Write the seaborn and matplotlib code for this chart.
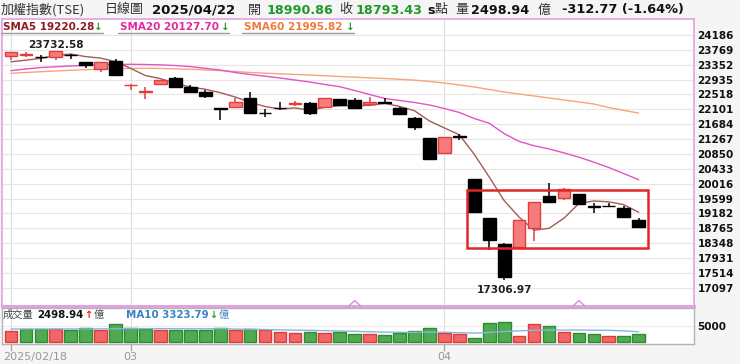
import numpy as np
import pandas as pd
import matplotlib
matplotlib.use("Agg")
import matplotlib.pyplot as plt
import matplotlib.transforms as mtransforms
from matplotlib.patches import Rectangle
import seaborn as sns

# ---------------- data ----------------
dates = ["2025-02-18", "2025-02-19", "2025-02-20", "2025-02-21", "2025-02-24", "2025-02-25",
         "2025-02-26", "2025-02-27", "2025-03-03", "2025-03-04", "2025-03-05", "2025-03-06",
         "2025-03-07", "2025-03-10", "2025-03-11", "2025-03-12", "2025-03-13", "2025-03-14",
         "2025-03-17", "2025-03-18", "2025-03-19", "2025-03-20", "2025-03-21", "2025-03-24",
         "2025-03-25", "2025-03-26", "2025-03-27", "2025-03-28", "2025-03-31", "2025-04-01",
         "2025-04-02", "2025-04-07", "2025-04-08", "2025-04-09", "2025-04-10", "2025-04-11",
         "2025-04-14", "2025-04-15", "2025-04-16", "2025-04-17", "2025-04-18", "2025-04-21",
         "2025-04-22"]
opens = [23595, 23630, 23565, 23575, 23628, 23418, 23222, 23463, 22780, 22585, 22810, 22970,
         22735, 22577, 22140, 22174, 22426, 22010, 22135, 22262, 22269, 22174, 22381, 22362,
         22255, 22305, 22129, 21849, 21289, 20885, 21340, 20140, 19064, 18327, 18251, 18766,
         19680, 19607, 19728, 19380, 19400, 19327, 18990.86]
highs = [23712, 23700, 23622, 23732.58, 23640, 23435, 23435, 23502, 22810, 22718, 22935, 23015,
         22782, 22642, 22140, 22409, 22577, 22101, 22314, 22342, 22314, 22409, 22381, 22409,
         22437, 22409, 22174, 21894, 21289, 21320, 21409, 20140, 19064, 18350, 18999, 19513,
         20044, 19887, 19740, 19467, 19485, 19392, 19047]
lows = [23482, 23575, 23435, 23490, 23500, 23250, 23155, 23062, 22642, 22390, 22790, 22735,
        22549, 22409, 21801, 22150, 21989, 21894, 22082, 22202, 21941, 22174, 22222, 22101,
        22250, 22250, 21941, 21521, 20700, 20885, 21241, 19232, 18155, 17306.97, 18251, 18419,
        19490, 19560, 19448, 19187, 19355, 19092, 18793.43]
closes = [23705, 23645, 23555, 23725, 23618, 23343, 23435, 23062, 22790, 22600, 22922, 22735,
          22577, 22482, 22120, 22314, 21989, 21995, 22125, 22275, 21989, 22409, 22222, 22129,
          22300, 22290, 21969, 21614, 20700, 21317, 21333, 19232.35, 18436, 17391.76, 18999,
          19513, 19490, 19859, 19448, 19354, 19392, 19092, 18793.43]
prior_closes = [23420, 23305, 23325, 23410]  # closes of the 4 sessions before 02/18

sma20 = [23183, 23230, 23272, 23292, 23314, 23331, 23351, 23356, 23362, 23356, 23345, 23328,
         23297, 23250, 23202, 23132, 23076, 23029, 22978, 22922, 22866, 22796, 22734, 22628,
         22516, 22404, 22348, 22292, 22222, 22124, 22012, 21844, 21710, 21420, 21200, 21080,
         20990, 20880, 20760, 20620, 20470, 20300, 20127.70]
sma60 = [23110, 23132, 23155, 23174, 23194, 23211, 23225, 23239, 23247, 23250, 23244, 23236,
         23222, 23205, 23185, 23160, 23132, 23113, 23096, 23079, 23062, 23040, 23020, 23001,
         22984, 22964, 22942, 22917, 22881, 22838, 22782, 22726, 22656, 22586, 22530, 22474,
         22418, 22362, 22306, 22250, 22150, 22070, 21995.82]

volumes = [3656, 4188, 4188, 4188, 3875, 4375, 3969, 5844, 4500, 4188, 3969, 3875, 3969, 3750,
           4500, 3969, 4188, 3750, 3250, 2938, 3344, 2938, 3344, 2719, 2719, 2188, 2938, 3563,
           4594, 3031, 2500, 1474, 6090, 6410, 2115, 5641, 5000, 3301, 2885, 2660, 2019, 2115,
           2498.94]
vol_dir = ["r", "g", "g", "r", "g", "g", "r", "g", "g", "g", "r", "g", "g", "g", "g", "r", "g",
           "r", "r", "r", "g", "r", "g", "g", "r", "g", "g", "g", "g", "r", "r", "g", "g", "g",
           "r", "r", "g", "r", "g", "g", "r", "g", "g"]
vol_ma10 = [4150, 4160, 4170, 4180, 4190, 4200, 4210, 4250, 4280, 4300, 4280, 4260, 4240, 4220,
            4290, 4150, 4100, 4000, 3900, 3800, 3750, 3650, 3550, 3450, 3320, 3200, 3150, 3150,
            3200, 3150, 3000, 2900, 3100, 3400, 3600, 3800, 3850, 3850, 3850, 3800, 3750, 3600,
            3323.79]

y_ticks = [24186, 23769, 23352, 22935, 22518, 22101, 21684, 21267, 20850, 20433, 20016,
           19599, 19182, 18765, 18348, 17931, 17514, 17097]
vol_ticks = [5000]
date_tick_idx = [0, 8, 29]
date_tick_labels = ["2025/02/18", "03", "04"]
marker_idx = [23, 38]
box_idx = [30.5, 42.6]
box_val = [18223, 19840]

header_title = "加權指數(TSE)"
header_kind = "日線圖"
header_date = "2025/04/22"
header_open = "18990.86"
header_close = "18793.43"
header_vol = "2498.94"
header_chg = "-312.77 (-1.64%)"
sma_labels = [("SMA5", "19220.28"), ("SMA20", "20127.70"), ("SMA60", "21995.82")]
vol_label = ("成交量", "2498.94", "MA10", "3323.79")

# ---------------- style ----------------
sns.set_theme(style="white")
plt.rcParams["font.family"] = ["DejaVu Sans", "Noto Sans CJK TC"]
CJK = ["Noto Sans CJK TC", "DejaVu Sans"]

bg = "#f5f5f5"
W, H = 740, 364
fig = plt.figure(figsize=(W / 100, H / 100), dpi=100, facecolor=bg)


def fx(px):
    return px / W


def fy(py):
    return 1 - py / H


ax = fig.add_axes([fx(2), fy(306), fx(694) - fx(2), fy(19) - fy(306)])
axv = fig.add_axes([fx(2), fy(344), fx(694) - fx(2), fy(308) - fy(344)])
for a in (ax, axv):
    a.set_facecolor("white")

n = len(dates)
idx = np.arange(n)
o = np.array(opens, float)
h = np.array(highs, float)
l = np.array(lows, float)
c = np.array(closes, float)
up = c >= o

# moving average of closes (SMA5)
all_c = pd.Series(list(prior_closes) + list(closes), dtype=float)
sma5 = all_c.rolling(5).mean().to_numpy()[len(prior_closes):]

RED_FACE, RED_EDGE = "#f47c7c", "#e23c3c"
BLACK = "#000000"

# grid
ax.set_ylim(16590, 24631)
ax.set_xlim(-0.6, 45.7)
ax.set_yticks(y_ticks)
ax.grid(axis="y", color="#e6e6e6", lw=0.8)
ax.grid(axis="x", visible=False)
ax.set_axisbelow(True)
for i in date_tick_idx:
    ax.axvline(i, color="#dedede", lw=0.8, zorder=0)
    axv.axvline(i, color="#dedede", lw=0.8, zorder=0)

# moving average lines
sns.lineplot(x=idx, y=sma60, ax=ax, color="#f5a57a", lw=1.0, zorder=2, legend=False)
sns.lineplot(x=idx, y=sma20, ax=ax, color="#e454c4", lw=1.0, zorder=2, legend=False)
sns.lineplot(x=idx, y=sma5, ax=ax, color="#a45a55", lw=1.0, zorder=2, legend=False)

# candles
wick_col = np.where(up, RED_EDGE, BLACK)
ax.vlines(idx, l, h, colors=wick_col, lw=1.1, zorder=3)
body_b = np.minimum(o, c)
body_h = np.maximum(np.abs(c - o), 12)
ax.bar(idx, body_h, bottom=body_b, width=0.85,
       color=np.where(up, RED_FACE, BLACK), edgecolor=np.where(up, RED_EDGE, BLACK),
       lw=1.0, zorder=4)

# high / low annotations
hi_i = int(np.argmax(h))
lo_i = int(np.argmin(l))
ax.annotate(f"{h[hi_i]:.2f}", xy=(hi_i, h[hi_i]), xytext=(0, 1), textcoords="offset points",
            ha="center", va="bottom", fontsize=7.6, fontweight="bold", color="#222222", zorder=6)
ax.annotate(f"{l[lo_i]:.2f}", xy=(lo_i, l[lo_i]), xytext=(0, -3), textcoords="offset points",
            ha="center", va="top", fontsize=7.6, fontweight="bold", color="#222222", zorder=6)

# highlight box
ax.add_patch(Rectangle((box_idx[0], box_val[0]), box_idx[1] - box_idx[0], box_val[1] - box_val[0],
                       fill=False, ec="#e02626", lw=1.8, zorder=6))

# chevron markers on the bottom edge
blend = mtransforms.blended_transform_factory(ax.transData, ax.transAxes)
for i in marker_idx:
    ax.plot([i - 0.4, i, i + 0.4], [0.0, 0.019, 0.0], transform=blend, color="#d48fd4",
            lw=1.0, zorder=7, clip_on=False)

# axes styling (main)
ax.yaxis.tick_right()
ax.set_yticklabels([str(t) for t in y_ticks], fontweight="bold", fontsize=7.5, color="#111111")
ax.tick_params(axis="y", length=0, pad=2.5)
ax.tick_params(axis="x", bottom=False, labelbottom=False)
for s in ("top", "left", "right"):
    ax.spines[s].set_color("#e2a2e2")
    ax.spines[s].set_linewidth(1.2)
ax.spines["bottom"].set_color("#e2a2e2")
ax.spines["bottom"].set_linewidth(2.2)
ax.set_xlabel("")
ax.set_ylabel("")

# volume panel
vdf = pd.DataFrame({"idx": idx, "vol": volumes, "dir": vol_dir})
sns.barplot(data=vdf, x="idx", y="vol", hue="dir", palette={"r": "#f26666", "g": "#50aa50"},
            dodge=False, native_scale=True, width=0.85, saturation=1, ax=axv, legend=False,
            zorder=3)
for p in axv.patches:
    fc = p.get_facecolor()
    p.set_edgecolor("#e03a3a" if fc[0] > 0.8 else "#2f8a33")
    p.set_linewidth(1.0)
sns.lineplot(x=idx, y=vol_ma10, ax=axv, color="#86b6e0", lw=1.0, zorder=4, legend=False)
axv.set_xlim(-0.6, 45.7)
axv.set_ylim(-463, 10647)
axv.yaxis.tick_right()
axv.set_yticks(vol_ticks)
axv.set_yticklabels([str(t) for t in vol_ticks], fontweight="bold", fontsize=7.5, color="#111111")
axv.tick_params(axis="y", length=0, pad=2.5)
axv.grid(axis="y", color="#ececec", lw=0.8)
axv.grid(axis="x", visible=False)
axv.set_axisbelow(True)
axv.set_xticks(date_tick_idx)
axv.set_xticklabels([])
axv.tick_params(axis="x", length=5, color="#aaaaaa", width=1, bottom=True)
for s in axv.spines.values():
    s.set_color("#b4b4b4")
    s.set_linewidth(1.0)
axv.set_xlabel("")
axv.set_ylabel("")

for k, (i, lab) in enumerate(zip(date_tick_idx, date_tick_labels)):
    axv.annotate(lab, xy=(i, 0), xycoords=("data", "axes fraction"),
                 xytext=(-8 if k == 0 else 0, -13), textcoords="offset pixels",
                 ha="left" if k == 0 else "center", va="center", fontsize=8, color="#999999")

# ---------------- texts ----------------
HY = 10
CS = 9.4
fig.text(fx(1), fy(HY), header_title, fontsize=CS, color="#333333", family=CJK, va="center")
fig.text(fx(105), fy(HY), header_kind, fontsize=CS, color="#333333", family=CJK, va="center")
fig.text(fx(152), fy(HY), header_date, fontsize=9.5, fontweight="bold", color="#111111", va="center")
fig.text(fx(248), fy(HY), "開", fontsize=CS, color="#333333", family=CJK, va="center")
fig.text(fx(267), fy(HY), header_open, fontsize=9.2, fontweight="bold", color="#1e9a28", va="center")
fig.text(fx(339), fy(HY), "收", fontsize=CS, color="#333333", family=CJK, va="center")
fig.text(fx(356), fy(HY), header_close, fontsize=9.2, fontweight="bold", color="#1e9a28", va="center")
fig.text(fx(427), fy(HY), "s", fontsize=9.2, fontweight="bold", color="#111111", va="center")
fig.text(fx(435), fy(HY), "點", fontsize=CS, color="#333333", family=CJK, va="center")
fig.text(fx(455), fy(HY), "量", fontsize=CS, color="#333333", family=CJK, va="center")
fig.text(fx(471), fy(HY), header_vol, fontsize=9.2, fontweight="bold", color="#111111", va="center")
fig.text(fx(538), fy(HY), "億", fontsize=CS, color="#333333", family=CJK, va="center")
fig.text(fx(562), fy(HY), header_chg, fontsize=9.3, fontweight="bold", color="#111111", va="center")

# SMA legend row
LY = 27
sma_cols = ["#8e1c1c", "#e6289e", "#f07a3c"]
sma_x = [3, 120, 244]
arrow_x = [94, 221, 346]
under = [(1, 103), (118, 229), (242, 354)]
for (name, val), col, x0, axx, (u0, u1) in zip(sma_labels, sma_cols, sma_x, arrow_x, under):
    fig.text(fx(x0), fy(LY), f"{name} {val}", fontsize=7.5, fontweight="bold", color=col, va="center")
    fig.text(fx(axx), fy(LY), "↓", fontsize=7.5, fontweight="bold", color="#2a9a2a", va="center")
    fig.add_artist(plt.Line2D([fx(u0), fx(u1)], [fy(32.5), fy(32.5)], color="#9a9a9a", lw=1.0))

# volume legend row
VY = 314.5
fig.text(fx(3), fy(VY), vol_label[0], fontsize=7.4, color="#444444", family=CJK, va="center")
fig.text(fx(37), fy(VY), vol_label[1], fontsize=7.4, fontweight="bold", color="#111111", va="center")
fig.text(fx(84), fy(VY), "↑", fontsize=7.0, fontweight="bold", color="#e02020", va="center")
fig.text(fx(94), fy(VY), "億", fontsize=7.4, color="#444444", family=CJK, va="center")
fig.text(fx(126), fy(VY), f"{vol_label[2]} {vol_label[3]}", fontsize=7.4, fontweight="bold",
         color="#3a82c6", va="center")
fig.text(fx(209), fy(VY), "↓", fontsize=7.0, fontweight="bold", color="#2a9a2a", va="center")
fig.text(fx(219), fy(VY), "億", fontsize=7.4, color="#3a82c6", family=CJK, va="center")

fig.savefig("out.png", dpi=100, facecolor=bg)
